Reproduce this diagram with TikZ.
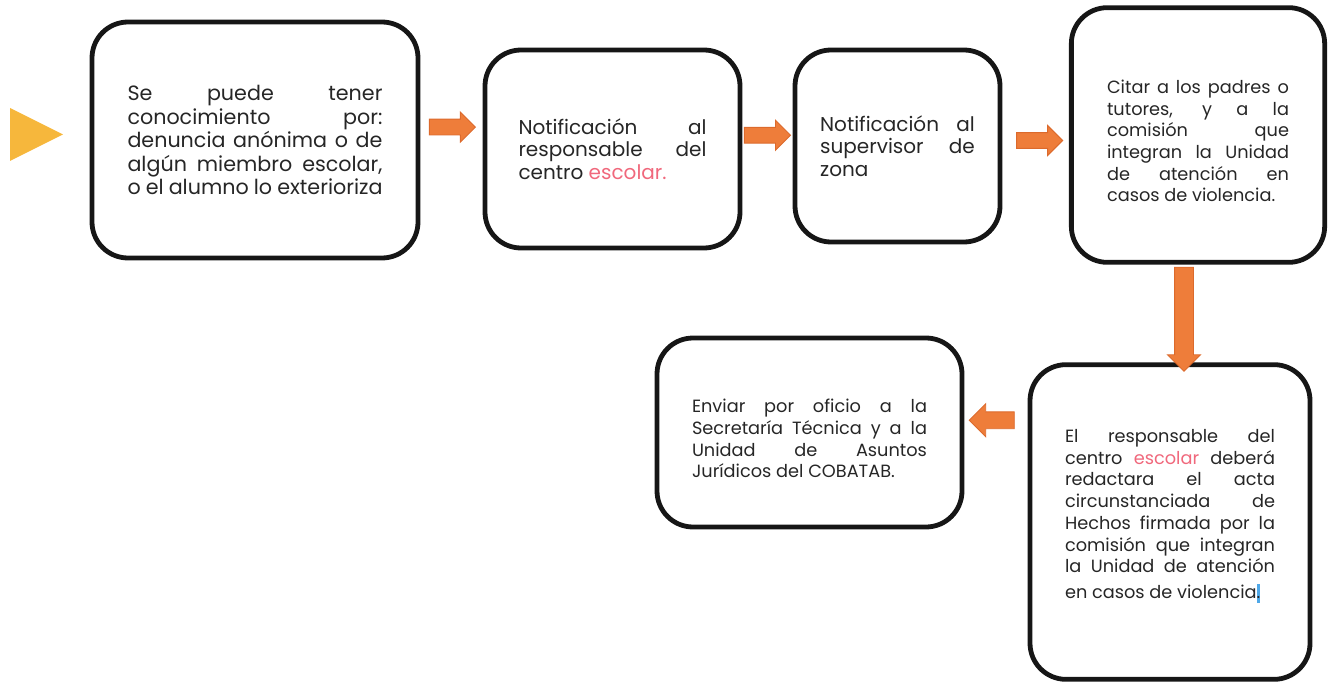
\documentclass[tikz,border=0pt]{standalone}
\usepackage{fontspec}
\setmainfont{Poppins}
\usetikzlibrary{shapes.arrows,calc}
\definecolor{arrfill}{HTML}{EE7D3A}
\definecolor{arrdraw}{HTML}{DC6A2C}
\definecolor{trifill}{HTML}{F6B73C}
\definecolor{pinkt}{HTML}{F0687C}
\definecolor{boxline}{HTML}{161616}
\definecolor{txt}{HTML}{262626}
\definecolor{selblue}{HTML}{4FA8E8}
\begin{document}
\begin{tikzpicture}[x=0.75pt,y=-0.75pt,
  box/.style={draw=boxline, line width=3.6pt, rounded corners=27pt, inner sep=0pt, text=txt,
    align=justify, font=\fontsize{15}{17}\selectfont,
    execute at begin node={\tolerance=10000\hyphenpenalty=10000\emergencystretch=20pt}},
  smalltext/.style={font=\fontsize{13.3}{16.3}\selectfont},
  flow/.style={single arrow, draw=arrdraw, fill=arrfill, line width=0.7pt, inner sep=0pt,
    inner ysep=5.6pt, single arrow head extend=5.25pt, minimum width=0pt, minimum height=34.5pt},
]
\useasboundingbox (0,0) rectangle (1330,684);

% start marker
\fill[trifill] (10,108) -- (63,134.5) -- (10,161) -- cycle;

% boxes
\node[box, font=\fontsize{15.5}{17.6}\selectfont, minimum width=244.5pt, minimum height=177pt, text width=191.25pt] (b1) at (255,140)
 {Se puede tener\linebreak conocimiento por:\linebreak denuncia anónima o de\linebreak algún miembro escolar,\linebreak o el alumno lo exterioriza};

\node[box, minimum width=191.25pt, minimum height=148.5pt, text width=141pt] (b2) at (612.5,149)
 {Notificación al\linebreak responsable del\linebreak centro \textcolor{pinkt}{escolar.}};

\node[box, minimum width=153.75pt, minimum height=144pt, text width=116pt] (b3) at (897.5,146)
 {Notificación al\linebreak supervisor de\linebreak zona};

\node[box, smalltext, minimum width=190pt, minimum height=191pt, text width=136.5pt] (b4) at (1198,135)
 {Citar a los padres o\linebreak tutores, y a la\linebreak comisión que\linebreak integran la Unidad\linebreak de atención en\linebreak casos de violencia.\par\vspace*{-9pt}};

\node[box, smalltext, minimum width=210pt, minimum height=236pt, text width=157.5pt] (b5) at (1170,522)
 {El responsable del\linebreak centro \textcolor{pinkt}{escolar} deberá\linebreak redactara el acta\linebreak circunstanciada de\linebreak Hechos firmada por la\linebreak comisión que integran\linebreak la Unidad de atención\vadjust{\vskip 3pt}\linebreak en casos de violencia\makebox[0pt][l]{\textcolor{selblue}{\rule[-3pt]{2.6pt}{14pt}}}.\par\vspace*{9pt}};

\node[box, smalltext, minimum width=228.75pt, minimum height=141.75pt, text width=176.25pt] (b6) at (809.5,432.5)
 {Enviar por oficio a la\linebreak Secretaría Técnica y a la\linebreak Unidad de Asuntos\linebreak Jurídicos del COBATAB.\par\vspace*{-9pt}};

% block arrows between the steps
\node[flow] (a1) at ($(b1.east)!0.45!(b2.west) + (0,-17)$) {};
\node[flow] (a2) at ($(b2.east)!0.42!(b3.west) + (0,-12.5)$) {};
\node[flow] (a3) at ($(b3.east)!0.5!(b4.west) + (0,0)$) {};
\node[flow, rotate=-90, inner ysep=6.75pt, minimum height=78pt, single arrow head extend=5.25pt] (a4)
  at ($(b4.south)!0.5!(b5.north) + (0,1)$) {};
\node[flow, rotate=180, inner ysep=6pt, minimum height=33.75pt, single arrow head extend=6pt] (a5)
  at ($(b6.east)!0.5!(b5.west) + (0,-57)$) {};
\end{tikzpicture}
\end{document}
